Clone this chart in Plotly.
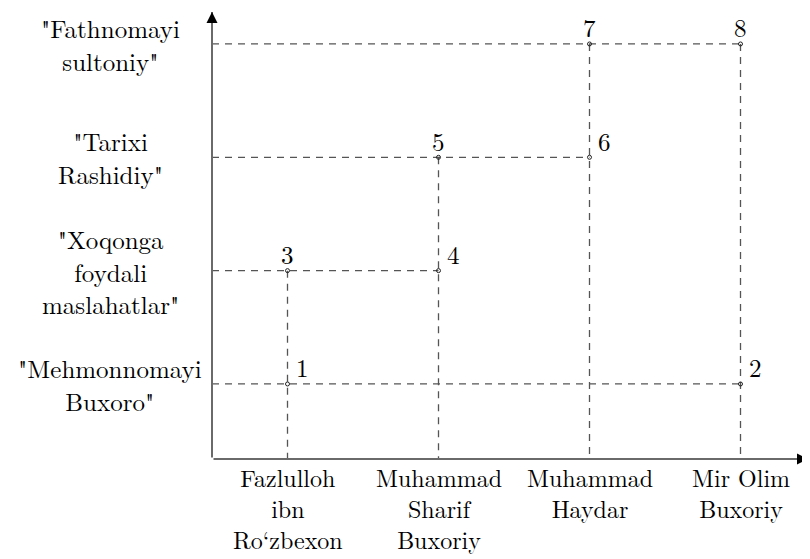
import plotly.graph_objects as go

# ---- data ----
authors = ["Fazlulloh<br>ibn<br>Ro‘zbexon", "Muhammad<br>Sharif<br>Buxoriy",
           "Muhammad<br>Haydar", "Mir Olim<br>Buxoriy"]
works = ['"Mehmonnomayi<br>Buxoro"', '"Xoqonga<br>foydali<br>maslahatlar"',
         '"Tarixi<br>Rashidiy"', '"Fathnomayi<br>sultoniy"']
point_ids = [1, 2, 3, 4, 5, 6, 7, 8]
point_author = [1, 4, 1, 2, 2, 3, 3, 4]   # 1-based index into authors
point_work = [1, 1, 2, 2, 3, 3, 4, 4]     # 1-based index into works
label_pos = ["right", "right", "top", "right", "top", "right", "top", "top"]

FONT = "Latin Modern Roman, CMU Serif, DejaVu Serif, serif"
FS = 25
FS_X = 24
X0, X1 = 0.5, 4.447
Y0, Y1 = 0.338, 4.282
DASH_COL = "#555555"
AXIS_COL = "#6a6a6a"

fig = go.Figure()

# horizontal dashed guides (axis -> farthest point on that work)
for wi in range(1, len(works) + 1):
    xs = [a for a, w in zip(point_author, point_work) if w == wi]
    if xs:
        fig.add_trace(go.Scatter(x=[X0, max(xs)], y=[wi, wi], mode="lines",
                                 line=dict(color=DASH_COL, width=1.3, dash="7px,6px"),
                                 hoverinfo="skip", showlegend=False))
# vertical dashed guides (highest point on that author -> axis)
for ai in range(1, len(authors) + 1):
    ys = [w for a, w in zip(point_author, point_work) if a == ai]
    if ys:
        fig.add_trace(go.Scatter(x=[ai, ai], y=[max(ys), Y0], mode="lines",
                                 line=dict(color=DASH_COL, width=1.3, dash="7px,6px"),
                                 hoverinfo="skip", showlegend=False))

# points
fig.add_trace(go.Scatter(x=point_author, y=point_work, mode="markers",
                         marker=dict(symbol="circle-open", size=4, color="#222222",
                                     line=dict(color="#222222", width=1)),
                         hoverinfo="skip", showlegend=False))

annotations = []
font = dict(family=FONT, size=FS, color="black")
font_x = dict(family=FONT, size=FS_X, color="black")
# point labels
for pid, a, w, pos in zip(point_ids, point_author, point_work, label_pos):
    annotations.append(dict(x=a, y=w, xref="x", yref="y", text=str(pid), showarrow=False,
                            xanchor="center", yanchor="middle",
                            xshift=0 if pos == "top" else 15, yshift=17, font=font))
# y "tick" labels
for i, t in enumerate(works, start=1):
    annotations.append(dict(x=0, y=i, xref="paper", yref="y", text=t, showarrow=False,
                            xanchor="center", yanchor="middle", xshift=-102,
                            align="center", font=font))
# x "tick" labels
for i, t in enumerate(authors, start=1):
    annotations.append(dict(x=i, y=0, xref="x", yref="paper", text=t, showarrow=False,
                            xanchor="center", yanchor="top", yshift=1,
                            align="center", font=font_x))
# axes with arrows
annotations.append(dict(x=X1, y=Y0, ax=X0, ay=Y0, xref="x", yref="y", axref="x", ayref="y",
                        showarrow=True, arrowhead=0, arrowwidth=2,
                        arrowcolor=AXIS_COL, text=""))
annotations.append(dict(x=X0, y=Y1, ax=X0, ay=Y0, xref="x", yref="y", axref="x", ayref="y",
                        showarrow=True, arrowhead=0, arrowwidth=2,
                        arrowcolor=AXIS_COL, text=""))
annotations.append(dict(x=X1, y=Y0, ax=-6, ay=0, xref="x", yref="y",
                        showarrow=True, arrowhead=2, arrowsize=1.1, arrowwidth=2,
                        arrowcolor="black", text=""))
annotations.append(dict(x=X0, y=Y1, ax=0, ay=6, xref="x", yref="y",
                        showarrow=True, arrowhead=2, arrowsize=1.1, arrowwidth=2,
                        arrowcolor="black", text=""))

fig.update_layout(
    width=810, height=559,
    margin=dict(l=204, r=10, t=4, b=108),
    plot_bgcolor="white", paper_bgcolor="white",
    xaxis=dict(range=[X0, X1], showgrid=False, zeroline=False, showticklabels=False,
               showline=False, ticks=""),
    yaxis=dict(range=[Y0, Y1], showgrid=False, zeroline=False, showticklabels=False,
               showline=False, ticks=""),
    annotations=annotations,
    showlegend=False,
)

fig.write_html("out.html")
